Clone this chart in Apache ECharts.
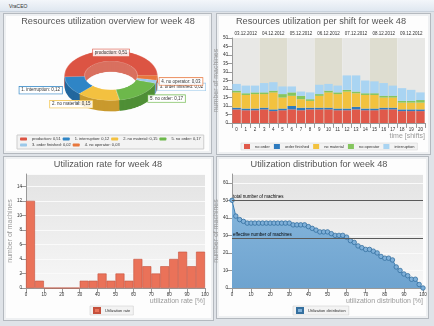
<!DOCTYPE html>
<html><head><meta charset="utf-8">
<script src="https://cdn.jsdelivr.net/npm/echarts@6/dist/echarts.min.js"></script>
<style>
html,body{margin:0;padding:0;width:434px;height:326px;overflow:hidden;background:#dfe3e8;font-family:"Liberation Sans",Arial,sans-serif;}
#tb{position:absolute;left:0;top:0;width:434px;height:11px;background:linear-gradient(#f3f6fa,#dfe7f0);border-bottom:1px solid #c9d2dc;font-size:5px;color:#333;}
#tb span{position:absolute;left:9px;top:3px;}
.panel{position:absolute;background:#fdfdfd;border:1px solid #b4b9bf;box-shadow:inset 0 0 0 2px #eef0f2;}
#pie{position:absolute;left:51px;top:42.6px;width:120px;height:170px;transform:scaleY(0.54);transform-origin:0 0;z-index:1;}
#main{position:absolute;left:0;top:0;width:434px;height:326px;z-index:2;}
</style></head>
<body>
<div id="tb"><span>VraCEO</span></div>
<div class="panel" style="left:3px;top:13px;width:207px;height:139px"></div>
<div class="panel" style="left:216px;top:13px;width:213px;height:140px"></div>
<div class="panel" style="left:3px;top:156px;width:209px;height:163px"></div>
<div class="panel" style="left:216px;top:156px;width:211px;height:161px"></div>
<div id="pie"></div>
<div id="main"></div>
<script>
// ---- data ----
const pieNames = ['production','1. interruption','2. no material','5. no order','3. order finished','4. no operator'];
const pieValues = [0.51,0.12,0.15,0.17,0.02,0.03];

const shifts = ['0','1','2','3','4','5','6','7','8','9','10','11','12','13','14','15','16','17','18','19','20'];
const dates = ['03.12.2012','04.12.2012','05.12.2012','06.12.2012','07.12.2012','08.12.2012','09.12.2012'];
const noOrder       = [8,7.5,7.5,8,7,7.5,8,7.5,8,8,8,7.5,7.5,8,7.5,7.5,8,8,7,7,7];
const orderFinished = [1,1,1,1,1,1,2,1.5,1,1,1,1,1,1.5,1,1,1,1,1,1,1];
const noMaterial    = [9,8,8.5,8,10,6.5,6,5,4,7,9,8.5,10,8,8,8,6,6,4,4,4];
const noOperator    = [1,1,1,1,1,2,2,2,1,1,1,1,1,1,1,1,1,1,1,1,1.5];
const interruption  = [4,4.5,4,5.5,5,4.5,3.5,2.5,4,5.5,4,4,8.5,9.5,7.5,7,7.5,6,7.5,6.5,4.5];

const histBins = ['0-5','5-10','10-15','15-20','20-25','25-30','30-35','35-40','40-45','45-50','50-55','55-60','60-65','65-70','70-75','75-80','80-85','85-90','90-95','95-100'];
const histCounts = [12,1,0,0,0,0,1,1,2,1,2,1,4,3,2,3,4,5,3,5];

const distX = [0,2,4,6,8,10,12,14,16,18,20,22,24,26,28,30,32,34,36,38,40,42,44,46,48,50,52,54,56,58,60,62,64,66,68,70,72,74,76,78,80,82,84,86,88,90,92,94,96,98,100];
const distY = [50,41,39,38,37,37,37,37,37,37,37,37,37,37,37,37,36,36,36,36,35,34,33,32,32,32,31,30,30,30,29,27,26,24,23,22,22,21,20,18,17,17,16,12,10,8,7,5,5,2,0];
const totalMachines = 50;
const effectiveMachines = 28.5;

// ---- styles ----
const pieColors  = ['#dc5443','#2f85c6','#f3c140','#6db84b','#9cc9ea','#e8773c'];
const sideColors = ['#d9705f','#22679e','#c99a2e','#4f8f36','#76a5c6','#bd5a2c'];
const barColors  = ['#e0594a','#2e7bbf','#f2c23f','#85c65e','#a9d4f2'];
const fmt = v => String(v).replace('.', ',');
const pieData = pieNames.map((n,i)=>({name:n,value:pieValues[i]}));

// ---- 3D-ish donut (separate instance, vertically squashed) ----
const pieChart = echarts.init(document.getElementById('pie'), null, {renderer:'canvas'});
const pieSeries = [];
for (let off = 20; off >= 1; off -= 2) {
  pieSeries.push({type:'pie', silent:true, animation:false, radius:[26.5,46.5], center:[60,60+off],
    startAngle:0, clockwise:false, label:{show:false}, labelLine:{show:false},
    data: pieData.map((d,i)=>({name:d.name,value:d.value,itemStyle:{color:sideColors[i]}}))});
}
pieSeries.push({type:'pie', silent:true, animation:false, radius:[26.5,46.5], center:[60,60],
  startAngle:0, clockwise:false, label:{show:false}, labelLine:{show:false},
  itemStyle:{borderColor:'rgba(255,255,255,0.5)', borderWidth:0.6},
  data: pieData.map((d,i)=>({name:d.name,value:d.value,itemStyle:{color:pieColors[i]}}))});
pieChart.setOption({animation:false, series:pieSeries});

// ---- main chart ----
const chart = echarts.init(document.getElementById('main'), null, {renderer:'canvas'});
const titleStyle = {fontSize:9.2, fontWeight:'normal', color:'#555', fontFamily:'Liberation Sans'};
const tick = {fontSize:4.5, color:'#333'};
const axisName = {fontSize:7, color:'#9a9a9a'};
const plotBg = new echarts.graphic.LinearGradient(0,0,0,1,[{offset:0,color:'#e3e3e3'},{offset:1,color:'#f7f7f7'}]);
const pieCy = 75, squash = 0.54;

chart.setOption({
  animation:false,
  textStyle:{fontFamily:'Liberation Sans'},
  title:[
    {text:'Resources utilization overview for week 48', left:108, top:17, textAlign:'center', padding:0, textStyle:titleStyle},
    {text:'Resources utilization per shift for week 48', left:321, top:17, textAlign:'center', padding:0, textStyle:titleStyle},
    {text:'Utilization rate for week 48', left:108, top:160, textAlign:'center', padding:0, textStyle:titleStyle},
    {text:'Utilization distribution for week 48', left:319, top:160, textAlign:'center', padding:0, textStyle:titleStyle}
  ],
  legend:[
    {seriesIndex:0, left:17, top:135, width:186, orient:'horizontal', icon:'roundRect', itemWidth:7, itemHeight:3, itemGap:2,
     backgroundColor:'#f3f3f3', borderColor:'#cdcdcd', borderWidth:1, padding:[2,3],
     textStyle:{fontSize:4, color:'#333', width:33, overflow:'none'}, selectedMode:false,
     formatter: n => n + ': ' + fmt(pieValues[pieNames.indexOf(n)]),
     data: pieNames.map((n,i)=>({name:n, itemStyle:{color:pieColors[i], opacity:1}}))},
    {left:241, top:143, width:190, icon:'rect', itemWidth:6, itemHeight:5, itemGap:4, selectedMode:false,
     backgroundColor:'#f3f3f3', borderColor:'#d0d0d0', borderWidth:0.5, padding:[1,3],
     textStyle:{fontSize:4, color:'#333'},
     data:['no order','order finished','no material','no operator','interruption']},
    {left:90, top:306, icon:'rect', itemWidth:6, itemHeight:5, selectedMode:false,
     backgroundColor:'#f3f3f3', borderColor:'#c8c8c8', borderWidth:0.5, padding:[1,3],
     textStyle:{fontSize:4, color:'#333'}, data:['Utilization rate']},
    {left:293, top:306, icon:'rect', itemWidth:6, itemHeight:5, selectedMode:false,
     backgroundColor:'#f3f3f3', borderColor:'#c8c8c8', borderWidth:0.5, padding:[1,3],
     textStyle:{fontSize:4, color:'#333'}, data:['Utilization distribution']}
  ],
  grid:[
    {left:232, top:38, width:193, height:85, show:true, borderWidth:0, backgroundColor:'rgba(0,0,0,0)'},
    {left:26, top:174, width:179, height:114, show:true, borderWidth:0, backgroundColor:plotBg},
    {left:232, top:174, width:191, height:114, show:true, borderWidth:0, backgroundColor:plotBg}
  ],
  xAxis:[
    {gridIndex:0, type:'category', data:shifts, axisLine:{lineStyle:{color:'#999'}}, axisTick:{show:true, lineStyle:{color:'#999'}},
     axisLabel:{...tick, margin:4, interval:0}, name:'time [shifts]', nameLocation:'end', nameGap:0,
     nameTextStyle:{...axisName, align:'right', verticalAlign:'top', padding:[10,0,0,0]}},
    {gridIndex:0, type:'category', data:dates, position:'top', axisLine:{show:false}, axisTick:{show:false, interval:0},
     axisLabel:{...tick, margin:2, interval:0},
     splitArea:{show:true, interval:0, areaStyle:{color:['#e8e8e6','#deddd0']}}},
    {gridIndex:1, type:'category', data:histBins, show:false},
    {gridIndex:1, type:'value', min:0, max:100, interval:10, position:'bottom',
     axisLine:{show:true, lineStyle:{color:'#999'}}, axisTick:{show:true}, splitLine:{show:false},
     axisLabel:{...tick, margin:4}, name:'utilization rate [%]', nameLocation:'end', nameGap:0,
     nameTextStyle:{...axisName, align:'right', verticalAlign:'top', padding:[10,0,0,0]}},
    {gridIndex:2, type:'value', min:0, max:100, interval:10,
     axisLine:{show:true, lineStyle:{color:'#999'}}, axisTick:{show:true}, splitLine:{show:false},
     axisLabel:{...tick, margin:4}, name:'utilization distribution [%]', nameLocation:'end', nameGap:0,
     nameTextStyle:{...axisName, align:'right', verticalAlign:'top', padding:[10,0,0,0]}}
  ],
  yAxis:[
    {gridIndex:0, type:'value', min:0, max:50, interval:5, axisLine:{show:true, lineStyle:{color:'#999'}}, axisTick:{show:true},
     splitLine:{show:false}, axisLabel:{...tick, margin:4},
     name:'number of machines', nameLocation:'middle', nameGap:11, nameTextStyle:{...axisName}},
    {gridIndex:1, type:'value', min:0, max:15.7, interval:2, axisLine:{show:true, lineStyle:{color:'#999'}}, axisTick:{show:true},
     splitLine:{show:true, lineStyle:{color:'#fafafa'}}, axisLabel:{...tick, margin:4, showMaxLabel:false},
     name:'number of machines', nameLocation:'middle', nameGap:12, nameTextStyle:{...axisName}},
    {gridIndex:2, type:'value', min:0, max:65, interval:10, axisLine:{show:true, lineStyle:{color:'#999'}}, axisTick:{show:true},
     splitLine:{show:true, lineStyle:{color:'#fafafa'}}, axisLabel:{...tick, margin:4, showMaxLabel:false},
     name:'number of machines', nameLocation:'middle', nameGap:12, nameTextStyle:{...axisName}}
  ],
  series:[
    {type:'pie', silent:true, radius:[26.5,46.5], center:[111,pieCy], startAngle:0, clockwise:false,
     itemStyle:{color:'rgba(0,0,0,0)'}, labelLine:{show:false, length:2, length2:0},
     label:{show:true, position:'outside', fontSize:4.5, color:'#333', backgroundColor:'rgba(255,255,255,0.85)',
            borderWidth:0.6, padding:[1,2], formatter: p => p.name + ': ' + fmt(p.value)},
     labelLayout: function(p){
       const mid = p.labelRect.y + p.labelRect.height/2;
       const r = {dy:(mid - pieCy)*(squash - 1) + 4};
       if (p.dataIndex === 0) { r.dx = 111 - (p.labelRect.x + p.labelRect.width/2); }
       return r;
     },
     data: pieData.map((d,i)=>({name:d.name, value:d.value, label:{borderColor:pieColors[i]}}))},
    {name:'no order', type:'bar', stack:'s', xAxisIndex:0, yAxisIndex:0, barCategoryGap:'8%', data:noOrder, itemStyle:{color:barColors[0]}},
    {name:'order finished', type:'bar', stack:'s', xAxisIndex:0, yAxisIndex:0, data:orderFinished, itemStyle:{color:barColors[1]}},
    {name:'no material', type:'bar', stack:'s', xAxisIndex:0, yAxisIndex:0, data:noMaterial, itemStyle:{color:barColors[2]}},
    {name:'no operator', type:'bar', stack:'s', xAxisIndex:0, yAxisIndex:0, data:noOperator, itemStyle:{color:barColors[3]}},
    {name:'interruption', type:'bar', stack:'s', xAxisIndex:0, yAxisIndex:0, data:interruption, itemStyle:{color:barColors[4]}},
    {name:'Utilization rate', type:'bar', xAxisIndex:2, yAxisIndex:1, barCategoryGap:'0%', data:histCounts,
     itemStyle:{color:'#ea7259', borderColor:'#c4503c', borderWidth:0.6}},
    {name:'Utilization distribution', type:'line', xAxisIndex:4, yAxisIndex:2,
     data: distX.map((x,i)=>[x, distY[i]]), symbol:'circle', symbolSize:4.5, showAllSymbol:true,
     lineStyle:{color:'#3f7fb3', width:1}, itemStyle:{color:'#7fb0d9', borderColor:'#35709f', borderWidth:0.8},
     areaStyle:{color:new echarts.graphic.LinearGradient(0,0,0,1,[{offset:0,color:'#86b6dc'},{offset:1,color:'#6ea3cf'}]), opacity:1},
     markLine:{silent:true, symbol:'none', lineStyle:{color:'#5a5a5a', width:1, type:'solid'},
       label:{position:'insideStartTop', formatter:'{b}', fontSize:4.5, color:'#000', distance:1},
       data:[{name:'total number of machines', yAxis:totalMachines},{name:'effective number of machines', yAxis:effectiveMachines}]}}
  ]
});
</script>
</body></html>
